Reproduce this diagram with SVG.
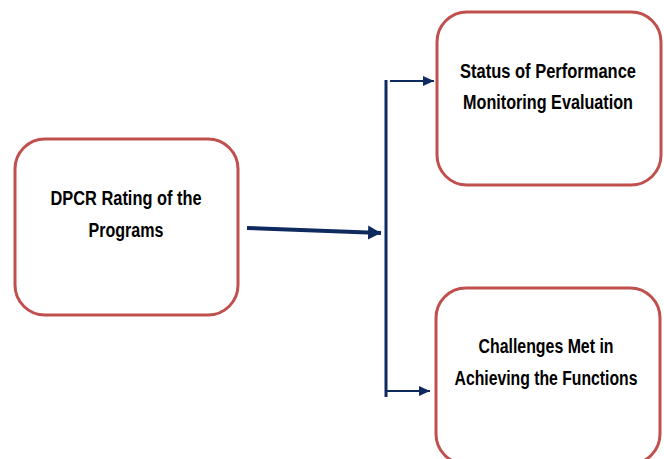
<svg xmlns="http://www.w3.org/2000/svg" width="664" height="459" viewBox="0 0 664 459">
  <style>
    .box { fill: #ffffff; stroke: #c0504d; stroke-width: 3; }
    .lbl { font-family: "Liberation Sans Narrow", "Liberation Sans", Arial, sans-serif; font-weight: bold; font-size: 19.5px; fill: #000000; text-anchor: middle; }
    .wire { fill: none; stroke: #0f2a5f; stroke-linecap: butt; }
  </style>
  <defs>
    <marker id="headBig" markerUnits="userSpaceOnUse" markerWidth="14" markerHeight="16" refX="13" refY="8" orient="auto">
      <path d="M0,1 L13,8 L0,15 Z" fill="#0f2a5f"/>
    </marker>
    <marker id="headSmall" markerUnits="userSpaceOnUse" markerWidth="12" markerHeight="12" refX="11" refY="6" orient="auto">
      <path d="M0,1 L11,6 L0,11 Z" fill="#0f2a5f"/>
    </marker>
  </defs>
  <rect width="664" height="459" fill="#ffffff"/>

  <g id="connectors">
    <line class="wire" x1="247" y1="228" x2="381" y2="233" stroke-width="4" marker-end="url(#headBig)"/>
    <line class="wire" x1="386" y1="80" x2="386" y2="397" stroke-width="3"/>
    <line class="wire" x1="390" y1="81" x2="434" y2="81" stroke-width="2" marker-end="url(#headSmall)"/>
    <line class="wire" x1="387" y1="391" x2="430" y2="391" stroke-width="2" marker-end="url(#headSmall)"/>
  </g>

  <g id="dpcr-rating">
    <rect class="box" x="15" y="139" width="223" height="176" rx="30" ry="30"/>
    <text class="lbl" x="126" y="205" textLength="151" lengthAdjust="spacingAndGlyphs">DPCR Rating of the</text>
    <text class="lbl" x="126" y="237" textLength="75" lengthAdjust="spacingAndGlyphs">Programs</text>
  </g>

  <g id="status-monitoring">
    <rect class="box" x="437" y="12" width="224" height="173" rx="30" ry="30"/>
    <text class="lbl" x="548" y="78" textLength="176" lengthAdjust="spacingAndGlyphs">Status of Performance</text>
    <text class="lbl" x="548" y="109" textLength="170" lengthAdjust="spacingAndGlyphs">Monitoring Evaluation</text>
  </g>

  <g id="challenges">
    <rect class="box" x="436" y="288" width="224" height="176" rx="30" ry="30"/>
    <text class="lbl" x="546" y="353" textLength="135" lengthAdjust="spacingAndGlyphs">Challenges Met in</text>
    <text class="lbl" x="546" y="385" textLength="183" lengthAdjust="spacingAndGlyphs">Achieving the Functions</text>
  </g>
</svg>
